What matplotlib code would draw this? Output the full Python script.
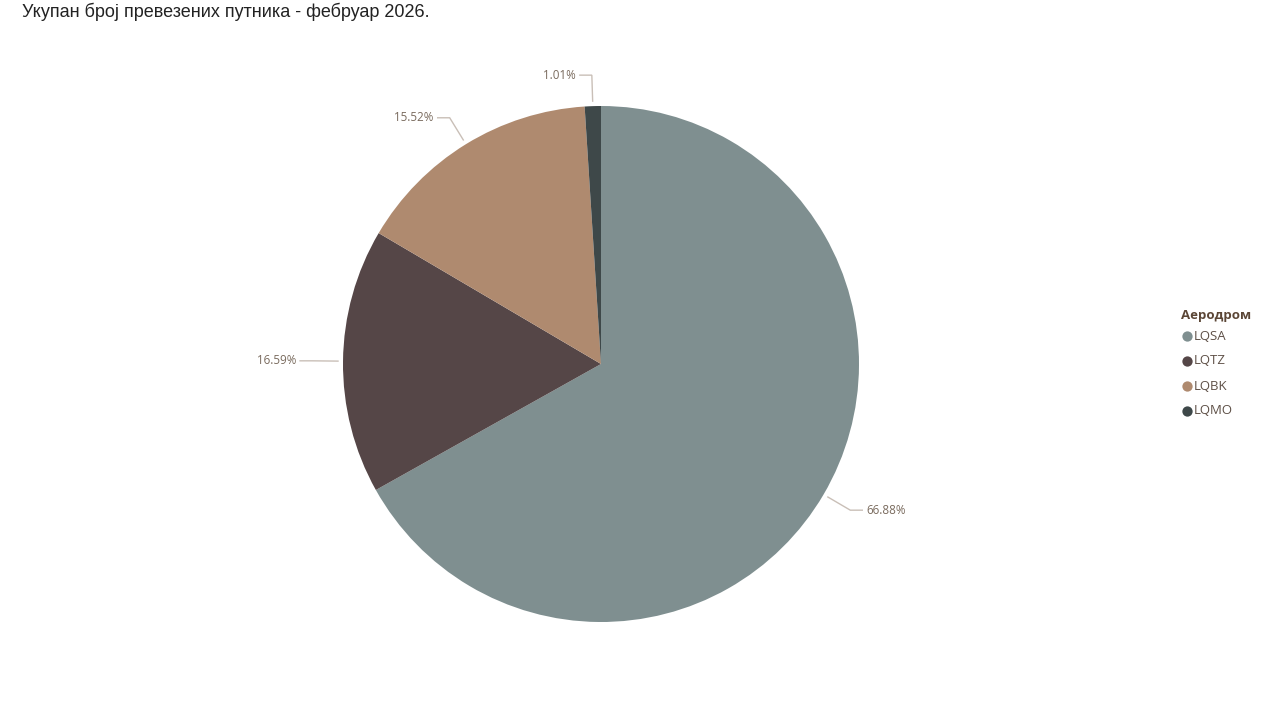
import numpy as np
import matplotlib
matplotlib.use("Agg")
import matplotlib.pyplot as plt

title = "Укупан број превезених путника - фебруар 2026."
legend_title = "Аеродром"
airports = ["LQSA", "LQTZ", "LQBK", "LQMO"]
shares = [66.88, 16.59, 15.52, 1.01]
colors = ["#7F8F90", "#554647", "#AF8A6F", "#3E4849"]

W, H = 1280, 720
fig = plt.figure(figsize=(W / 100, H / 100), dpi=100)
ax = fig.add_axes([0, 0, 1, 1])

cx, cy, R = 601, H - 364, 258
wedges, _ = ax.pie(shares, colors=colors, startangle=90, counterclock=False,
                   center=(cx, cy), radius=R, frame=True,
                   wedgeprops=dict(linewidth=0))
ax.set_xlim(0, W)
ax.set_ylim(0, H)
ax.set_aspect("equal")
ax.axis("off")

label_font = ["Open Sans", "DejaVu Sans"]
line_col = "#C9BFB7"
text_col = "#7A6B5E"
for w, s in zip(wedges, shares):
    ang = np.deg2rad((w.theta1 + w.theta2) / 2)
    x1, y1 = cx + (R + 5) * np.cos(ang), cy + (R + 5) * np.sin(ang)
    x2, y2 = cx + (R + 31) * np.cos(ang), cy + (R + 31) * np.sin(ang)
    side = 1 if np.cos(ang) > 0.01 else -1
    x3 = x2 + side * 12
    ax.plot([x1, x2, x3], [y1, y2, y2], color=line_col, lw=1, solid_joinstyle="miter")
    ax.text(x3 + side * 4, y2, f"{s:.2f}%", ha="left" if side > 0 else "right",
            va="center", fontsize=8.4, color=text_col, family=label_font)

fig.text(22 / W, 1 - 12 / H, title, ha="left", va="center", fontsize=13,
         color="#222222", family=["Liberation Sans", "DejaVu Sans"])

# legend
lx, ly0 = 1181, 315
ax.text(lx, H - ly0, legend_title, ha="left", va="center", fontsize=9.5,
        fontweight="bold", color="#5B4636", family=label_font)
for i, (a, c) in enumerate(zip(airports, colors)):
    y = H - (336 + 25 * i)
    ax.scatter([1187], [y], s=55, color=c, linewidths=0)
    ax.text(1194, y, a, ha="left", va="center", fontsize=9.5, color="#5E5047",
            family=label_font)

fig.savefig("out.png", dpi=100, facecolor="white")
